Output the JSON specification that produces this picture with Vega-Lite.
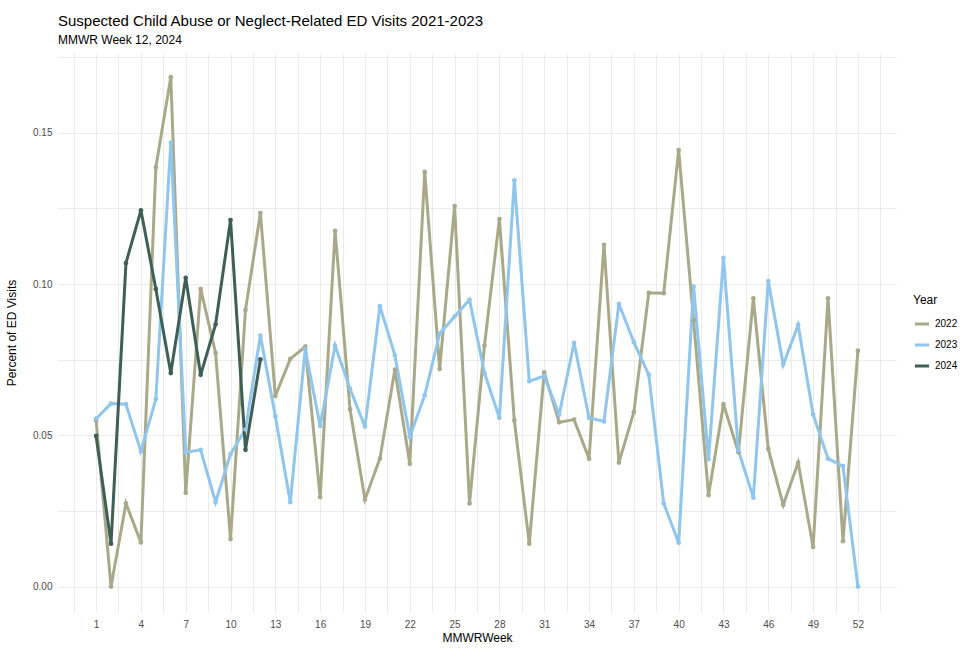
{
  "$schema": "https://vega.github.io/schema/vega-lite/v6.json",
  "autosize": "none",
  "width": 838,
  "height": 559,
  "padding": {"left": 58, "top": 53, "right": 72, "bottom": 37},
  "background": "white",
  "title": {
    "text": "Suspected Child Abuse or Neglect-Related ED Visits 2021-2023",
    "subtitle": "MMWR Week 12, 2024",
    "anchor": "start",
    "frame": "group",
    "font": "Liberation Sans",
    "fontSize": 15,
    "fontWeight": "normal",
    "color": "#000000",
    "subtitleFont": "Liberation Sans",
    "subtitleFontSize": 12,
    "subtitleColor": "#000000",
    "subtitlePadding": 6,
    "offset": 6
  },
  "data": {"values": [
    {"Week":1,"Year":"2022","Pct":0.055},{"Week":2,"Year":"2022","Pct":0.0},{"Week":3,"Year":"2022","Pct":0.0275},{"Week":4,"Year":"2022","Pct":0.0146},{"Week":5,"Year":"2022","Pct":0.1386},{"Week":6,"Year":"2022","Pct":0.1684},{"Week":7,"Year":"2022","Pct":0.031},{"Week":8,"Year":"2022","Pct":0.0984},{"Week":9,"Year":"2022","Pct":0.0772},{"Week":10,"Year":"2022","Pct":0.0157},{"Week":11,"Year":"2022","Pct":0.0914},{"Week":12,"Year":"2022","Pct":0.1235},{"Week":13,"Year":"2022","Pct":0.063},{"Week":14,"Year":"2022","Pct":0.0753},{"Week":15,"Year":"2022","Pct":0.0793},{"Week":16,"Year":"2022","Pct":0.0296},{"Week":17,"Year":"2022","Pct":0.1176},{"Week":18,"Year":"2022","Pct":0.0586},{"Week":19,"Year":"2022","Pct":0.0288},{"Week":20,"Year":"2022","Pct":0.0423},{"Week":21,"Year":"2022","Pct":0.0717},{"Week":22,"Year":"2022","Pct":0.0406},{"Week":23,"Year":"2022","Pct":0.1371},{"Week":24,"Year":"2022","Pct":0.0719},{"Week":25,"Year":"2022","Pct":0.1258},{"Week":26,"Year":"2022","Pct":0.0275},{"Week":27,"Year":"2022","Pct":0.0797},{"Week":28,"Year":"2022","Pct":0.1215},{"Week":29,"Year":"2022","Pct":0.0549},{"Week":30,"Year":"2022","Pct":0.0142},{"Week":31,"Year":"2022","Pct":0.0708},{"Week":32,"Year":"2022","Pct":0.0543},{"Week":33,"Year":"2022","Pct":0.0552},{"Week":34,"Year":"2022","Pct":0.0423},{"Week":35,"Year":"2022","Pct":0.113},{"Week":36,"Year":"2022","Pct":0.041},{"Week":37,"Year":"2022","Pct":0.0577},{"Week":38,"Year":"2022","Pct":0.0971},{"Week":39,"Year":"2022","Pct":0.097},{"Week":40,"Year":"2022","Pct":0.1443},{"Week":41,"Year":"2022","Pct":0.088},{"Week":42,"Year":"2022","Pct":0.0302},{"Week":43,"Year":"2022","Pct":0.0603},{"Week":44,"Year":"2022","Pct":0.0444},{"Week":45,"Year":"2022","Pct":0.0953},{"Week":46,"Year":"2022","Pct":0.0455},{"Week":47,"Year":"2022","Pct":0.027},{"Week":48,"Year":"2022","Pct":0.041},{"Week":49,"Year":"2022","Pct":0.0131},{"Week":50,"Year":"2022","Pct":0.0953},{"Week":51,"Year":"2022","Pct":0.015},{"Week":52,"Year":"2022","Pct":0.078},
    {"Week":1,"Year":"2023","Pct":0.0555},{"Week":2,"Year":"2023","Pct":0.0605},{"Week":3,"Year":"2023","Pct":0.0603},{"Week":4,"Year":"2023","Pct":0.0447},{"Week":5,"Year":"2023","Pct":0.062},{"Week":6,"Year":"2023","Pct":0.1468},{"Week":7,"Year":"2023","Pct":0.0444},{"Week":8,"Year":"2023","Pct":0.0452},{"Week":9,"Year":"2023","Pct":0.0279},{"Week":10,"Year":"2023","Pct":0.0438},{"Week":11,"Year":"2023","Pct":0.052},{"Week":12,"Year":"2023","Pct":0.083},{"Week":13,"Year":"2023","Pct":0.0563},{"Week":14,"Year":"2023","Pct":0.0279},{"Week":15,"Year":"2023","Pct":0.0785},{"Week":16,"Year":"2023","Pct":0.0531},{"Week":17,"Year":"2023","Pct":0.0797},{"Week":18,"Year":"2023","Pct":0.0654},{"Week":19,"Year":"2023","Pct":0.0529},{"Week":20,"Year":"2023","Pct":0.0927},{"Week":21,"Year":"2023","Pct":0.0765},{"Week":22,"Year":"2023","Pct":0.0495},{"Week":23,"Year":"2023","Pct":0.0632},{"Week":24,"Year":"2023","Pct":0.0836},{"Week":25,"Year":"2023","Pct":0.0893},{"Week":26,"Year":"2023","Pct":0.0948},{"Week":27,"Year":"2023","Pct":0.0706},{"Week":28,"Year":"2023","Pct":0.0558},{"Week":29,"Year":"2023","Pct":0.1343},{"Week":30,"Year":"2023","Pct":0.0679},{"Week":31,"Year":"2023","Pct":0.0696},{"Week":32,"Year":"2023","Pct":0.0569},{"Week":33,"Year":"2023","Pct":0.0806},{"Week":34,"Year":"2023","Pct":0.0558},{"Week":35,"Year":"2023","Pct":0.0546},{"Week":36,"Year":"2023","Pct":0.0935},{"Week":37,"Year":"2023","Pct":0.0808},{"Week":38,"Year":"2023","Pct":0.07},{"Week":39,"Year":"2023","Pct":0.0275},{"Week":40,"Year":"2023","Pct":0.0145},{"Week":41,"Year":"2023","Pct":0.0992},{"Week":42,"Year":"2023","Pct":0.0421},{"Week":43,"Year":"2023","Pct":0.1087},{"Week":44,"Year":"2023","Pct":0.045},{"Week":45,"Year":"2023","Pct":0.0294},{"Week":46,"Year":"2023","Pct":0.101},{"Week":47,"Year":"2023","Pct":0.0734},{"Week":48,"Year":"2023","Pct":0.0865},{"Week":49,"Year":"2023","Pct":0.0569},{"Week":50,"Year":"2023","Pct":0.0423},{"Week":51,"Year":"2023","Pct":0.0398},{"Week":52,"Year":"2023","Pct":0.0},
    {"Week":1,"Year":"2024","Pct":0.0498},{"Week":2,"Year":"2024","Pct":0.0142},{"Week":3,"Year":"2024","Pct":0.107},{"Week":4,"Year":"2024","Pct":0.1244},{"Week":5,"Year":"2024","Pct":0.0984},{"Week":6,"Year":"2024","Pct":0.0706},{"Week":7,"Year":"2024","Pct":0.1021},{"Week":8,"Year":"2024","Pct":0.07},{"Week":9,"Year":"2024","Pct":0.0867},{"Week":10,"Year":"2024","Pct":0.1212},{"Week":11,"Year":"2024","Pct":0.0452},{"Week":12,"Year":"2024","Pct":0.0751}
  ]},
  "mark": {"type": "line", "strokeWidth": 3, "point": {"filled": true, "size": 22}},
  "encoding": {
    "x": {
      "field": "Week", "type": "quantitative",
      "scale": {"domain": [-1.55, 54.55], "nice": false, "zero": false},
      "axis": {
        "title": "MMWRWeek",
        "values": [-0.5,1,2.5,4,5.5,7,8.5,10,11.5,13,14.5,16,17.5,19,20.5,22,23.5,25,26.5,28,29.5,31,32.5,34,35.5,37,38.5,40,41.5,43,44.5,46,47.5,49,50.5,52,53.5],
        "labelExpr": "datum.value % 3 == 1 ? format(datum.value, 'd') : ''",
        "labelOverlap": false,
        "labelBound": false,
        "labelFlush": false,
        "labelPadding": 7,
        "titlePadding": 3
      }
    },
    "y": {
      "field": "Pct", "type": "quantitative",
      "scale": {"domain": [-0.0084, 0.1764], "nice": false, "zero": false},
      "axis": {
        "title": "Percent of ED Visits",
        "values": [0,0.025,0.05,0.075,0.1,0.125,0.15,0.175],
        "labelExpr": "abs(datum.value*20 - round(datum.value*20)) < 0.000001 ? format(datum.value, '.2f') : ''",
        "labelOverlap": false,
        "labelBound": false,
        "labelPadding": 6,
        "titlePadding": 14
      }
    },
    "color": {
      "field": "Year", "type": "nominal",
      "scale": {"domain": ["2022","2023","2024"], "range": ["#A9A98A", "#90C5EC", "#3E5F56"]},
      "legend": {
        "title": "Year",
        "orient": "none",
        "legendX": 855,
        "legendY": 242,
        "symbolType": "stroke",
        "symbolStrokeWidth": 3,
        "symbolSize": 200
      }
    }
  },
  "config": {
    "view": {"stroke": null},
    "font": "Liberation Sans",
    "axis": {
      "domain": false,
      "ticks": false,
      "grid": true,
      "gridColor": "#EBEBEB",
      "gridWidth": 1,
      "labelFont": "Liberation Sans",
      "labelFontSize": 10,
      "labelColor": "#4D4D4D",
      "titleFont": "Liberation Sans",
      "titleFontSize": 12,
      "titleFontWeight": "normal",
      "titleColor": "#000000"
    },
    "legend": {
      "titleFont": "Liberation Sans",
      "titleFontSize": 12,
      "titleFontWeight": "normal",
      "titleColor": "#000000",
      "labelFont": "Liberation Sans",
      "labelFontSize": 10,
      "labelColor": "#000000",
      "rowPadding": 6,
      "titlePadding": 8
    }
  }
}
